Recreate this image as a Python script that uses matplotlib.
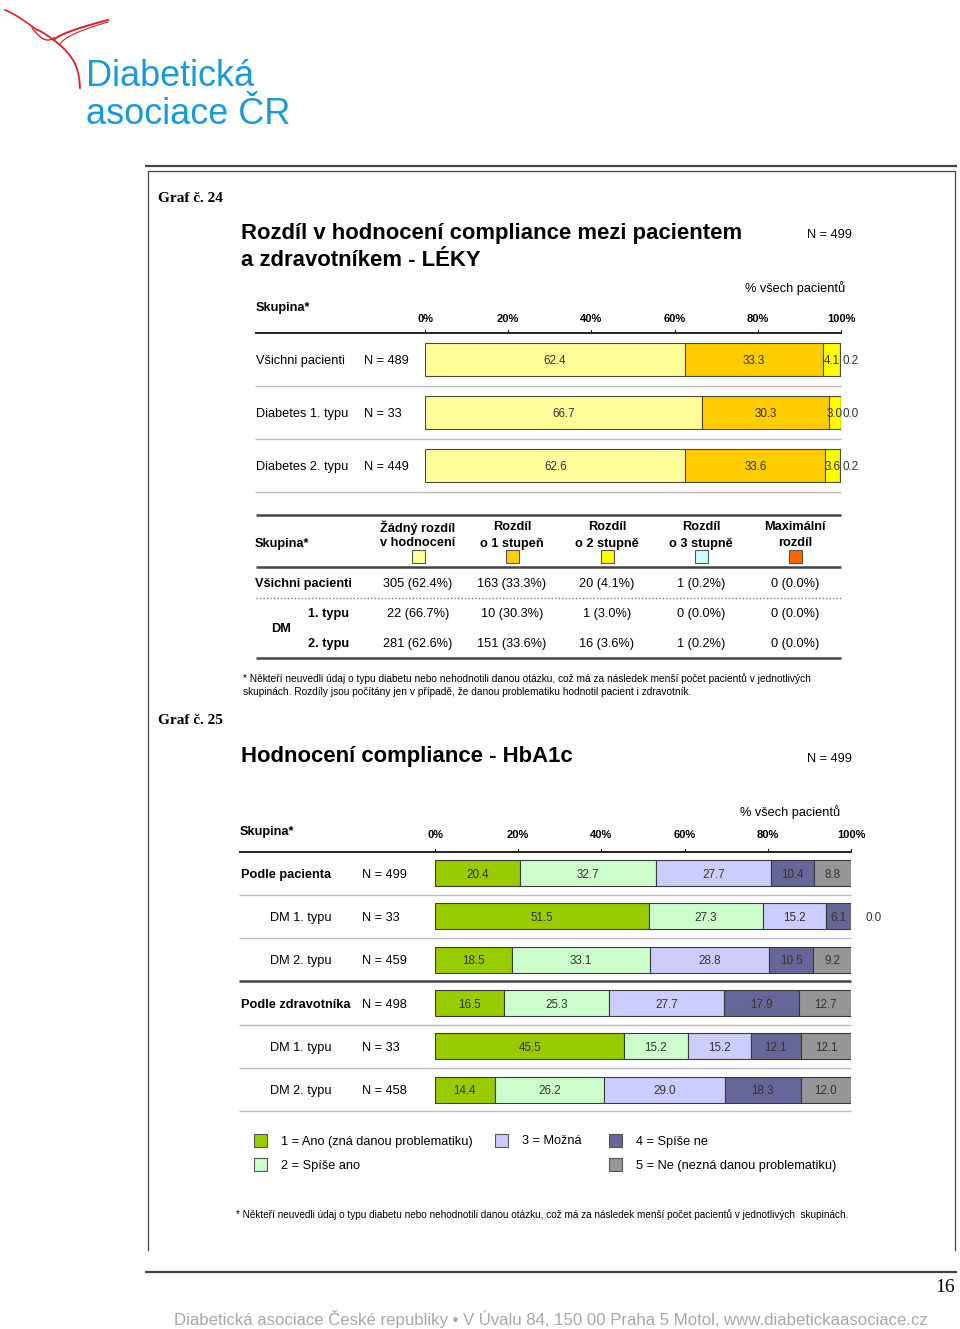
# -*- coding: utf-8 -*-
import numpy as np
import matplotlib
matplotlib.use('Agg')
import matplotlib.pyplot as plt
from matplotlib.patches import Rectangle

plt.rcParams['font.family'] = ['Liberation Sans', 'DejaVu Sans']

# ---- data: Graf 24 ----
g24_rows = ['Všichni pacienti', 'Diabetes 1. typu', 'Diabetes 2. typu']
g24_n = ['N = 489', 'N = 33', 'N = 449']
g24_none = [62.4, 66.7, 62.6]
g24_st1 = [33.3, 30.3, 33.6]
g24_st2 = [4.1, 3.0, 3.6]
g24_st3 = [0.2, 0.0, 0.2]
g24_max = [0.0, 0.0, 0.0]
g24_cols = ['#FFFF99', '#FFCC00', '#FFFF00', '#CCFFFF', '#FF6600']

tab_head = [['Žádný rozdíl', 'v hodnocení'], ['Rozdíl', 'o 1 stupeň'], ['Rozdíl', 'o 2 stupně'],
            ['Rozdíl', 'o 3 stupně'], ['Maximální', 'rozdíl']]
tab_all = ['305 (62.4%)', '163 (33.3%)', '20 (4.1%)', '1 (0.2%)', '0 (0.0%)']
tab_dm1 = ['22 (66.7%)', '10 (30.3%)', '1 (3.0%)', '0 (0.0%)', '0 (0.0%)']
tab_dm2 = ['281 (62.6%)', '151 (33.6%)', '16 (3.6%)', '1 (0.2%)', '0 (0.0%)']

# ---- data: Graf 25 ----
g25_rows = ['Podle pacienta', 'DM 1. typu', 'DM 2. typu', 'Podle zdravotníka', 'DM 1. typu', 'DM 2. typu']
g25_n = ['N = 499', 'N = 33', 'N = 459', 'N = 498', 'N = 33', 'N = 458']
g25_1 = [20.4, 51.5, 18.5, 16.5, 45.5, 14.4]
g25_2 = [32.7, 27.3, 33.1, 25.3, 15.2, 26.2]
g25_3 = [27.7, 15.2, 28.8, 27.7, 15.2, 29.0]
g25_4 = [10.4, 6.1, 10.5, 17.9, 12.1, 18.3]
g25_5 = [8.8, 0.0, 9.2, 12.7, 12.1, 12.0]
g25_cols = ['#99CC00', '#CCFFCC', '#CCCCFF', '#666699', '#969696']
g25_leg = ['1 = Ano (zná danou problematiku)', '2 = Spíše ano', '3 = Možná', '4 = Spíše ne',
           '5 = Ne (nezná danou problematiku)']

ticks = [0, 20, 40, 60, 80, 100]

W, H = 960, 1329
fig = plt.figure(figsize=(9.6, 13.29), dpi=100)
bg = fig.add_axes([0, 0, 1, 1])
bg.set_xlim(0, W)
bg.set_ylim(H, 0)
bg.axis('off')

FS = 9.2
VA = 'center_baseline'

def px_axes(x0, y0, x1, y1):
    return fig.add_axes([x0 / W, 1 - y1 / H, (x1 - x0) / W, (y1 - y0) / H])

def hline(y, x0, x1, lw=1.0, c='#333333', ls='-'):
    bg.plot([x0, x1], [y, y], color=c, lw=lw, ls=ls, solid_capstyle='butt')

serif = ['Liberation Serif', 'DejaVu Serif']

# ---- logo ----
t = np.linspace(0, 1, 50)
red = '#D8202A'
bg.plot(5 + 32 * t, 10 + 20 * t ** 1.2, color=red, lw=1.2)
bg.plot(38 + 42 * t + 12 * np.sin(np.pi * t), 30 + 58 * t ** 1.1, color=red, lw=1.3)
bg.plot(32 + 22 * t, 28 + 12 * np.sin(np.pi * t * 0.7), color=red, lw=1.0)
bg.plot(54 + 54 * t, 40 - 20 * t ** 0.7, color=red, lw=1.4)
bg.plot(60 + 48 * t, 45 - 23 * t ** 0.6, color=red, lw=0.8)
bg.text(86, 86, 'Diabetická', fontsize=26, color='#1C9AD6', va='baseline')
bg.text(86, 124, 'asociace ČR', fontsize=26, color='#1C9AD6', va='baseline')

# ---- frame ----
hline(166, 145, 957, lw=1.6, c='#444444')
bg.plot([148, 148, 955, 955], [1250, 171, 171, 1250], color='#444444', lw=0.9)
hline(1272, 145, 957, lw=1.6, c='#444444')
bg.text(945, 1286, '16', fontsize=14, family=serif, ha='center', va=VA)
bg.text(551, 1318, 'Diabetická asociace České republiky • V Úvalu 84, 150 00 Praha 5 Motol, www.diabetickaasociace.cz',
        fontsize=12.1, color='#A8A8A8', ha='center', va=VA)

# ---- Graf 24 ----
bg.text(158, 197, 'Graf č. 24', fontsize=11, family=serif, fontweight='bold', va=VA)
bg.text(241, 231, 'Rozdíl v hodnocení compliance mezi pacientem', fontsize=15.9, fontweight='bold', va=VA)
bg.text(241, 258, 'a zdravotníkem - LÉKY', fontsize=15.9, fontweight='bold', va=VA)
bg.text(807, 234, 'N = 499', fontsize=FS, va=VA)
bg.text(845, 287, '% všech pacientů', fontsize=FS, ha='right', va=VA)
bg.text(256, 307, 'Skupina*', fontsize=FS, fontweight='bold', va=VA)

r24_top, r24_h = 333, 53
ax1 = px_axes(425, r24_top, 841, r24_top + 3 * r24_h)
y24 = np.arange(len(g24_rows))
segs = [g24_none, g24_st1, g24_st2, g24_st3, g24_max]
left = np.zeros(len(g24_rows))
for k, vals in enumerate(segs):
    vals = np.array(vals)
    ax1.barh(y24, vals, left=left, height=0.61, color=g24_cols[k], edgecolor='#4a4a3a', lw=0.8)
    for i, v in enumerate(vals):
        if k <= 2:
            ax1.text(left[i] + v / 2, i, f'{v:.1f}', ha='center', va=VA, fontsize=8.4, color='#333333')
        elif k == 3:
            ax1.text(100.4, i, f'{v:.1f}', ha='left', va=VA, fontsize=8.4, color='#333333', clip_on=False)
    left += vals
ax1.set_xlim(0, 100)
ax1.set_ylim(len(g24_rows) - 0.5, -0.5)
ax1.axis('off')
hline(r24_top, 255, 841, lw=1.4, c='#222222')
for tk in ticks:
    xp = 425 + tk / 100 * 416
    bg.plot([xp, xp], [r24_top - 3, r24_top], color='#222222', lw=0.8)
    bg.text(xp, 318, f'{tk}%', fontsize=8, fontweight='bold', ha='center', va=VA)
for i, (lab, n) in enumerate(zip(g24_rows, g24_n)):
    yc = r24_top + (i + 0.5) * r24_h
    bg.text(256, yc, lab, fontsize=FS, va=VA)
    bg.text(364, yc, n, fontsize=FS, va=VA)
    hline(r24_top + (i + 1) * r24_h, 255, 841, lw=1.0, c='#BBBBBB')

# table
col_x = [418, 512, 607, 701, 795]
hline(515, 256, 841, lw=1.8, c='#444444')
hline(567, 256, 841, lw=1.8, c='#444444')
hline(598, 256, 841, lw=1.0, c='#777777', ls=(0, (1, 1.5)))
hline(658, 256, 841, lw=1.8, c='#444444')
bg.text(255, 542, 'Skupina*', fontsize=FS, fontweight='bold', va=VA)
for j, cx in enumerate(col_x):
    bg.text(cx, 526, tab_head[j][0], fontsize=FS, fontweight='bold', ha='center', va=VA)
    bg.text(cx, 542, tab_head[j][1], fontsize=FS, fontweight='bold', ha='center', va=VA)
    bg.add_patch(Rectangle((cx - 6.5, 549.5), 13, 13, facecolor=g24_cols[j], edgecolor='#555555', lw=0.8))
    bg.text(cx, 583, tab_all[j], fontsize=FS, ha='center', va=VA)
    bg.text(cx, 613, tab_dm1[j], fontsize=FS, ha='center', va=VA)
    bg.text(cx, 643, tab_dm2[j], fontsize=FS, ha='center', va=VA)
bg.text(255, 583, 'Všichni pacienti', fontsize=FS, fontweight='bold', va=VA)
bg.text(308, 613, '1. typu', fontsize=FS, fontweight='bold', va=VA)
bg.text(308, 643, '2. typu', fontsize=FS, fontweight='bold', va=VA)
bg.text(271, 628, 'DM', fontsize=FS, fontweight='bold', va=VA)
bg.text(243, 678, '* Někteří neuvedli údaj o typu diabetu nebo nehodnotili danou otázku, což má za následek menší počet pacientů v jednotlivých',
        fontsize=7.3, va=VA)
bg.text(243, 691, 'skupinách. Rozdíly jsou počítány jen v případě, že danou problematiku hodnotil pacient i zdravotník.',
        fontsize=7.3, va=VA)

# ---- Graf 25 ----
bg.text(158, 719, 'Graf č. 25', fontsize=11, family=serif, fontweight='bold', va=VA)
bg.text(241, 754, 'Hodnocení compliance - HbA1c', fontsize=15.9, fontweight='bold', va=VA)
bg.text(807, 757, 'N = 499', fontsize=FS, va=VA)
bg.text(840, 811, '% všech pacientů', fontsize=FS, ha='right', va=VA)
bg.text(240, 830, 'Skupina*', fontsize=FS, fontweight='bold', va=VA)

r25_top, r25_h = 851.5, 43.3
ax2 = px_axes(435, r25_top, 851, r25_top + 6 * r25_h)
y25 = np.arange(len(g25_rows))
segs = [g25_1, g25_2, g25_3, g25_4, g25_5]
left = np.zeros(len(g25_rows))
for k, vals in enumerate(segs):
    vals = np.array(vals)
    ax2.barh(y25, vals, left=left, height=0.6, color=g25_cols[k], edgecolor='#3a3a3a', lw=0.8)
    for i, v in enumerate(vals):
        if v > 0:
            ax2.text(left[i] + v / 2, i, f'{v:.1f}', ha='center', va=VA, fontsize=8.4, color='#333333')
        else:
            ax2.text(103.5, i, f'{v:.1f}', ha='left', va=VA, fontsize=8.4, color='#333333', clip_on=False)
    left += vals
ax2.set_xlim(0, 100)
ax2.set_ylim(len(g25_rows) - 0.5, -0.5)
ax2.axis('off')
hline(r25_top, 239, 851, lw=1.4, c='#222222')
for tk in ticks:
    xp = 435 + tk / 100 * 416
    bg.plot([xp, xp], [r25_top - 3, r25_top], color='#222222', lw=0.8)
    bg.text(xp, 834, f'{tk}%', fontsize=8, fontweight='bold', ha='center', va=VA)
for i, (lab, n) in enumerate(zip(g25_rows, g25_n)):
    yc = r25_top + (i + 0.5) * r25_h
    main = lab.startswith('Podle')
    bg.text(241 if main else 270, yc, lab, fontsize=FS, va=VA, fontweight='bold' if main else 'normal')
    bg.text(362, yc, n, fontsize=FS, va=VA)
    if i == 2:
        hline(r25_top + (i + 1) * r25_h, 239, 851, lw=1.8, c='#444444')
    else:
        hline(r25_top + (i + 1) * r25_h, 239, 851, lw=1.0, c='#BBBBBB')

# legend
leg_pos = [(260, 1140), (260, 1164), (501, 1140), (615, 1140), (615, 1164)]
for (lx, ly), col, lab in zip(leg_pos, g25_cols, g25_leg):
    bg.add_patch(Rectangle((lx - 6.5, ly - 6.5), 13, 13, facecolor=col, edgecolor='#555555', lw=0.8))
    bg.text(lx + 21, ly, lab, fontsize=FS, va=VA)
bg.text(236, 1214, '* Někteří neuvedli údaj o typu diabetu nebo nehodnotili danou otázku, což má za následek menší počet pacientů v jednotlivých  skupinách.',
        fontsize=7.2, va=VA)

fig.savefig('out.png', dpi=100)
